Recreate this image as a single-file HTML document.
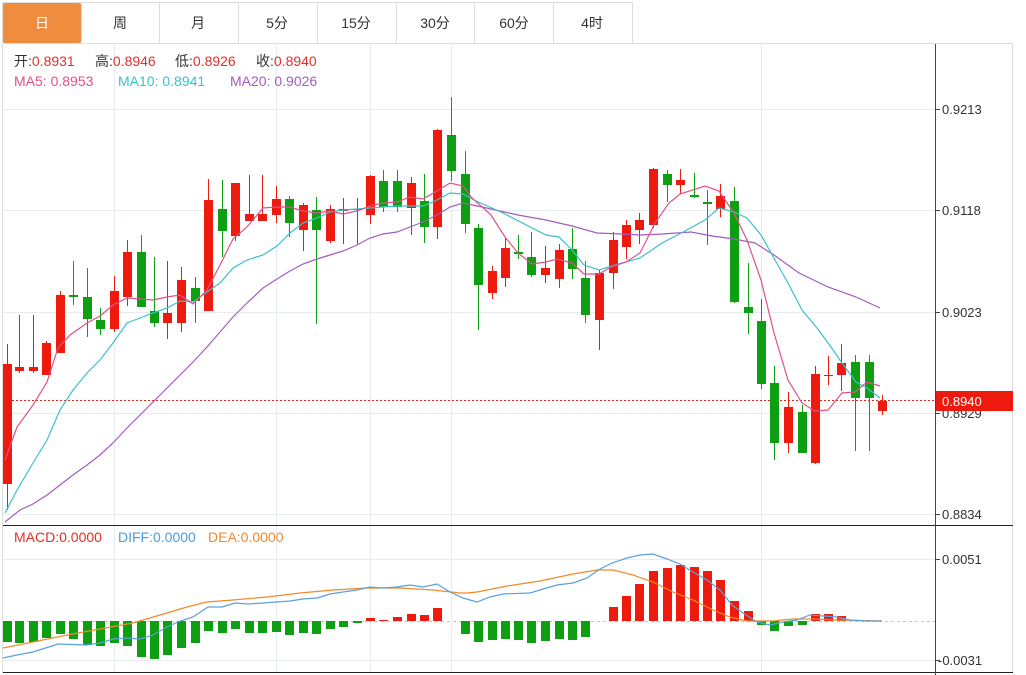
<!DOCTYPE html>
<html><head><meta charset="utf-8"><style>
html,body{margin:0;padding:0;background:#fff;width:1026px;height:675px;overflow:hidden}
svg{display:block;font-family:"Liberation Sans","Noto Sans CJK SC",sans-serif}
</style></head><body>
<svg width="1026" height="675" viewBox="0 0 1026 675" xmlns="http://www.w3.org/2000/svg">
<rect x="2.5" y="2.5" width="630" height="41" fill="#fff" stroke="#ddd"/>
<rect x="3" y="3" width="78" height="40" fill="#f08c3e" rx="2"/>
<g stroke="#ddd"><line x1="81.5" y1="3" x2="81.5" y2="43"/><line x1="159.5" y1="3" x2="159.5" y2="43"/><line x1="238.5" y1="3" x2="238.5" y2="43"/><line x1="317.5" y1="3" x2="317.5" y2="43"/><line x1="396.5" y1="3" x2="396.5" y2="43"/><line x1="474.5" y1="3" x2="474.5" y2="43"/><line x1="553.5" y1="3" x2="553.5" y2="43"/></g>
<line x1="2" y1="43.5" x2="1013" y2="43.5" stroke="#ddd"/>
<g font-size="14" text-anchor="middle" fill="#333">
<text x="42" y="28" fill="#fff">日</text><text x="120" y="28">周</text><text x="198" y="28">月</text><text x="277" y="28">5分</text><text x="356" y="28">15分</text><text x="435" y="28">30分</text><text x="514" y="28">60分</text><text x="592" y="28">4时</text>
</g>
<line x1="2.5" y1="44" x2="2.5" y2="673" stroke="#ddd"/>
<line x1="1012.5" y1="44" x2="1012.5" y2="673" stroke="#ddd"/>
<g stroke="#e6ecf1" stroke-width="1">
<line x1="3" y1="109.5" x2="935" y2="109.5"/><line x1="3" y1="210.5" x2="935" y2="210.5"/><line x1="3" y1="312.5" x2="935" y2="312.5"/><line x1="3" y1="413.5" x2="935" y2="413.5"/><line x1="3" y1="514.5" x2="935" y2="514.5"/>
<line x1="3" y1="559.5" x2="935" y2="559.5"/><line x1="3" y1="660.5" x2="935" y2="660.5"/>
<line x1="114.5" y1="44" x2="114.5" y2="673"/><line x1="276.5" y1="44" x2="276.5" y2="673"/><line x1="370.5" y1="44" x2="370.5" y2="673"/><line x1="451.5" y1="44" x2="451.5" y2="673"/><line x1="761.5" y1="44" x2="761.5" y2="673"/>
</g>
<g font-size="14">
<text x="14" y="66" fill="#333">开:<tspan fill="#e0302a">0.8931</tspan></text>
<text x="95" y="66" fill="#333">高:<tspan fill="#e0302a">0.8946</tspan></text>
<text x="175" y="66" fill="#333">低:<tspan fill="#e0302a">0.8926</tspan></text>
<text x="256" y="66" fill="#333">收:<tspan fill="#e0302a">0.8940</tspan></text>
<text x="14" y="86" fill="#e0508a">MA5: 0.8953</text>
<text x="118" y="86" fill="#3cc0d0">MA10: 0.8941</text>
<text x="230" y="86" fill="#a55bbf">MA20: 0.9026</text>
</g>
<line x1="8" y1="400.5" x2="935" y2="400.5" stroke="#e8261c" stroke-dasharray="2,2"/>
<g stroke-width="1">
<g fill="#ee1a0e" stroke="#ee1a0e">
<line x1="7.5" y1="344" x2="7.5" y2="510"/><rect x="3" y="364" width="9" height="120" stroke="none"/>
<line x1="19.5" y1="315" x2="19.5" y2="373"/><rect x="15" y="367" width="9" height="4" stroke="none"/>
<line x1="33.5" y1="315" x2="33.5" y2="373"/><rect x="29" y="367" width="9" height="4" stroke="none"/>
<line x1="46.5" y1="341" x2="46.5" y2="375"/><rect x="42" y="343" width="9" height="32" stroke="none"/>
<line x1="60.5" y1="291" x2="60.5" y2="353"/><rect x="56" y="295" width="9" height="58" stroke="none"/>
<line x1="114.5" y1="276" x2="114.5" y2="332"/><rect x="110" y="291" width="9" height="38" stroke="none"/>
<line x1="127.5" y1="240" x2="127.5" y2="306"/><rect x="123" y="252" width="9" height="45" stroke="none"/>
<line x1="167.5" y1="261" x2="167.5" y2="339"/><rect x="163" y="313" width="9" height="10" stroke="none"/>
<line x1="181.5" y1="267" x2="181.5" y2="332"/><rect x="177" y="280" width="9" height="43" stroke="none"/>
<line x1="208.5" y1="179" x2="208.5" y2="311"/><rect x="204" y="200" width="9" height="111" stroke="none"/>
<line x1="235.5" y1="183" x2="235.5" y2="241"/><rect x="231" y="183" width="9" height="53" stroke="none"/>
<line x1="249.5" y1="175" x2="249.5" y2="221"/><rect x="245" y="214" width="9" height="7" stroke="none"/>
<line x1="262.5" y1="175" x2="262.5" y2="221"/><rect x="258" y="214" width="9" height="7" stroke="none"/>
<line x1="276.5" y1="186" x2="276.5" y2="223"/><rect x="272" y="199" width="9" height="16" stroke="none"/>
<line x1="303.5" y1="203" x2="303.5" y2="251"/><rect x="299" y="205" width="9" height="25" stroke="none"/>
<line x1="330.5" y1="205" x2="330.5" y2="243"/><rect x="326" y="209" width="9" height="32" stroke="none"/>
<line x1="343.5" y1="198" x2="343.5" y2="244"/><rect x="339" y="209" width="9" height="2" stroke="none"/>
<line x1="357.5" y1="198" x2="357.5" y2="244"/><rect x="353" y="209" width="9" height="1" stroke="none"/>
<line x1="370.5" y1="175" x2="370.5" y2="224"/><rect x="366" y="176" width="9" height="39" stroke="none"/>
<line x1="411.5" y1="177" x2="411.5" y2="235"/><rect x="407" y="183" width="9" height="25" stroke="none"/>
<line x1="437.5" y1="129" x2="437.5" y2="239"/><rect x="433" y="130" width="9" height="97" stroke="none"/>
<line x1="492.5" y1="266" x2="492.5" y2="299"/><rect x="488" y="271" width="9" height="22" stroke="none"/>
<line x1="505.5" y1="238" x2="505.5" y2="287"/><rect x="501" y="248" width="9" height="30" stroke="none"/>
<line x1="545.5" y1="246" x2="545.5" y2="283"/><rect x="541" y="268" width="9" height="7" stroke="none"/>
<line x1="559.5" y1="244" x2="559.5" y2="288"/><rect x="555" y="250" width="9" height="29" stroke="none"/>
<line x1="599.5" y1="270" x2="599.5" y2="350"/><rect x="595" y="273" width="9" height="47" stroke="none"/>
<line x1="613.5" y1="232" x2="613.5" y2="289"/><rect x="609" y="240" width="9" height="33" stroke="none"/>
<line x1="626.5" y1="220" x2="626.5" y2="259"/><rect x="622" y="225" width="9" height="22" stroke="none"/>
<line x1="639.5" y1="213" x2="639.5" y2="244"/><rect x="635" y="220" width="9" height="10" stroke="none"/>
<line x1="653.5" y1="168" x2="653.5" y2="228"/><rect x="649" y="169" width="9" height="56" stroke="none"/>
<line x1="680.5" y1="169" x2="680.5" y2="194"/><rect x="676" y="180" width="9" height="5" stroke="none"/>
<line x1="720.5" y1="184" x2="720.5" y2="217"/><rect x="716" y="196" width="9" height="13" stroke="none"/>
<line x1="788.5" y1="392" x2="788.5" y2="453"/><rect x="784" y="407" width="9" height="36" stroke="none"/>
<line x1="815.5" y1="366" x2="815.5" y2="464"/><rect x="811" y="374" width="9" height="89" stroke="none"/>
<line x1="828.5" y1="356" x2="828.5" y2="385"/><rect x="824" y="375" width="9" height="1" stroke="none"/>
<line x1="841.5" y1="344" x2="841.5" y2="391"/><rect x="837" y="363" width="9" height="12" stroke="none"/>
<line x1="882.5" y1="395" x2="882.5" y2="415"/><rect x="878" y="401" width="9" height="10" stroke="none"/>
</g>
<g fill="#0e9e12" stroke="#0e9e12">
<line x1="73.5" y1="261" x2="73.5" y2="305"/><rect x="69" y="295" width="9" height="2" stroke="none"/>
<line x1="87.5" y1="268" x2="87.5" y2="337"/><rect x="83" y="297" width="9" height="22" stroke="none"/>
<line x1="100.5" y1="308" x2="100.5" y2="335"/><rect x="96" y="320" width="9" height="9" stroke="none"/>
<line x1="141.5" y1="235" x2="141.5" y2="307"/><rect x="137" y="252" width="9" height="55" stroke="none"/>
<line x1="154.5" y1="257" x2="154.5" y2="327"/><rect x="150" y="311" width="9" height="12" stroke="none"/>
<line x1="195.5" y1="277" x2="195.5" y2="323"/><rect x="191" y="288" width="9" height="13" stroke="none"/>
<line x1="222.5" y1="180" x2="222.5" y2="257"/><rect x="218" y="209" width="9" height="22" stroke="none"/>
<line x1="289.5" y1="196" x2="289.5" y2="237"/><rect x="285" y="199" width="9" height="24" stroke="none"/>
<line x1="316.5" y1="197" x2="316.5" y2="324"/><rect x="312" y="210" width="9" height="20" stroke="none"/>
<line x1="383.5" y1="170" x2="383.5" y2="212"/><rect x="379" y="181" width="9" height="26" stroke="none"/>
<line x1="397.5" y1="170" x2="397.5" y2="212"/><rect x="393" y="181" width="9" height="26" stroke="none"/>
<line x1="424.5" y1="174" x2="424.5" y2="243"/><rect x="420" y="201" width="9" height="26" stroke="none"/>
<line x1="451.5" y1="97" x2="451.5" y2="181"/><rect x="447" y="135" width="9" height="36" stroke="none"/>
<line x1="465.5" y1="151" x2="465.5" y2="233"/><rect x="461" y="174" width="9" height="50" stroke="none"/>
<line x1="478.5" y1="224" x2="478.5" y2="330"/><rect x="474" y="228" width="9" height="57" stroke="none"/>
<line x1="518.5" y1="235" x2="518.5" y2="259"/><rect x="514" y="252" width="9" height="2" stroke="none"/>
<line x1="531.5" y1="232" x2="531.5" y2="277"/><rect x="527" y="257" width="9" height="18" stroke="none"/>
<line x1="572.5" y1="228" x2="572.5" y2="279"/><rect x="568" y="249" width="9" height="20" stroke="none"/>
<line x1="585.5" y1="261" x2="585.5" y2="323"/><rect x="581" y="278" width="9" height="37" stroke="none"/>
<line x1="667.5" y1="170" x2="667.5" y2="202"/><rect x="663" y="174" width="9" height="11" stroke="none"/>
<line x1="694.5" y1="173" x2="694.5" y2="198"/><rect x="690" y="195" width="9" height="2" stroke="none"/>
<line x1="707.5" y1="190" x2="707.5" y2="245"/><rect x="703" y="202" width="9" height="2" stroke="none"/>
<line x1="734.5" y1="187" x2="734.5" y2="303"/><rect x="730" y="201" width="9" height="101" stroke="none"/>
<line x1="748.5" y1="263" x2="748.5" y2="334"/><rect x="744" y="307" width="9" height="6" stroke="none"/>
<line x1="761.5" y1="299" x2="761.5" y2="389"/><rect x="757" y="321" width="9" height="63" stroke="none"/>
<line x1="774.5" y1="366" x2="774.5" y2="460"/><rect x="770" y="383" width="9" height="60" stroke="none"/>
<line x1="802.5" y1="405" x2="802.5" y2="453"/><rect x="798" y="412" width="9" height="41" stroke="none"/>
<line x1="855.5" y1="355" x2="855.5" y2="451"/><rect x="851" y="362" width="9" height="36" stroke="none"/>
<line x1="869.5" y1="355" x2="869.5" y2="451"/><rect x="865" y="362" width="9" height="36" stroke="none"/>
</g>
</g>
<g fill="none" stroke-width="1.2">
<polyline stroke="#a55bbf" points="5,522 20,510 33,504 47,495 60,485 73,475 87,465 100,455 113,443 127,428 140,415 153,402 167,388 180,375 193,362 207,347 220,332 233,317 247,303 263,288 277,279 290,271 303,264 317,259 330,255 343,251 357,245 370,238 383,234 397,232 410,227 423,222 437,215 450,207 463,203 482,207 518,215 546,220 572,226 597,233 622,234 640,235 662,234 691,232 712,236 734,239 755,243 774,255 799,273 828,287 856,297 867,302 880,308"/>
<polyline stroke="#3cc0d0" points="5,513 17,490 33,463 47,440 60,410 73,390 87,373 100,360 113,343 127,323 140,318 153,313 167,308 180,301 193,302 207,292 220,283 233,268 247,260 263,255 277,246 290,233 303,223 317,218 330,212 343,210 357,209 370,208 383,207 397,206 410,206 423,206 437,200 450,193 463,194 474,200 503,213 546,235 559,237 572,250 584,265 599,270 615,265 640,258 662,243 683,232 705,220 719,208 734,212 747,218 761,235 775,260 788,283 802,310 817,328 831,347 842,363 856,382 867,388 880,398"/>
<polyline stroke="#e0508a" points="5,460 17,427 33,405 47,382 58,348 70,335 87,323 100,316 113,305 127,298 140,299 153,300 167,297 180,295 193,304 207,290 220,265 233,239 247,227 263,208 277,207 290,207 303,211 317,213 330,211 343,214 357,211 370,206 383,203 397,202 410,197 423,199 437,191 450,183 463,186 471,197 491,215 505,237 518,253 532,264 546,262 557,259 572,263 584,274 599,274 611,267 626,262 640,253 655,223 669,203 680,194 705,186 719,191 734,213 747,240 761,280 774,333 788,380 802,403 815,411 828,410 842,393 855,392 867,382 880,386"/>
</g>
<line x1="3" y1="525.5" x2="1013" y2="525.5" stroke="#222"/>
<line x1="3" y1="672.5" x2="1013" y2="672.5" stroke="#222"/>
<line x1="935.5" y1="44" x2="935.5" y2="675" stroke="#444"/>
<g stroke="#444"><line x1="935" y1="109.5" x2="940" y2="109.5"/><line x1="935" y1="210.5" x2="940" y2="210.5"/><line x1="935" y1="312.5" x2="940" y2="312.5"/><line x1="935" y1="413.5" x2="940" y2="413.5"/><line x1="935" y1="514.5" x2="940" y2="514.5"/><line x1="935" y1="559.5" x2="940" y2="559.5"/><line x1="935" y1="660.5" x2="940" y2="660.5"/></g>
<g font-size="13" fill="#333">
<text x="942" y="114">0.9213</text><text x="942" y="215">0.9118</text><text x="942" y="317">0.9023</text><text x="942" y="418">0.8929</text><text x="942" y="519">0.8834</text>
<text x="942" y="564">0.0051</text><text x="938" y="665">-0.0031</text>
</g>
<rect x="936" y="391" width="77" height="20" fill="#ee1a0e"/>
<text x="942" y="406" font-size="13" fill="#fff">0.8940</text>
<g font-size="14"><text x="14" y="542" fill="#e0302a">MACD:0.0000</text><text x="118" y="542" fill="#4a9de0">DIFF:0.0000</text><text x="208" y="542" fill="#f08a2a">DEA:0.0000</text></g>
<line x1="3" y1="621.5" x2="935" y2="621.5" stroke="#9fd0e8" stroke-dasharray="3,3"/>
<g fill="#0e9e12">
<rect x="3" y="621" width="9" height="21"/><rect x="15" y="621" width="9" height="22"/><rect x="29" y="621" width="9" height="21"/><rect x="42" y="621" width="9" height="17"/><rect x="56" y="621" width="9" height="13"/><rect x="69" y="621" width="9" height="18"/><rect x="83" y="621" width="9" height="24"/><rect x="96" y="621" width="9" height="25"/><rect x="110" y="621" width="9" height="22"/><rect x="123" y="621" width="9" height="25"/><rect x="137" y="621" width="9" height="36"/><rect x="150" y="621" width="9" height="38"/><rect x="163" y="621" width="9" height="34"/><rect x="177" y="621" width="9" height="27"/><rect x="191" y="621" width="9" height="22"/><rect x="204" y="621" width="9" height="10"/><rect x="218" y="621" width="9" height="12"/><rect x="231" y="621" width="9" height="8"/><rect x="245" y="621" width="9" height="12"/><rect x="258" y="621" width="9" height="12"/><rect x="272" y="621" width="9" height="11"/><rect x="285" y="621" width="9" height="14"/><rect x="299" y="621" width="9" height="12"/><rect x="312" y="621" width="9" height="13"/><rect x="326" y="621" width="9" height="8"/><rect x="339" y="621" width="9" height="6"/><rect x="353" y="621" width="9" height="2"/>
<rect x="461" y="621" width="9" height="13"/><rect x="474" y="621" width="9" height="21"/><rect x="488" y="621" width="9" height="19"/><rect x="501" y="621" width="9" height="18"/><rect x="514" y="621" width="9" height="19"/><rect x="527" y="621" width="9" height="22"/><rect x="541" y="621" width="9" height="20"/><rect x="555" y="621" width="9" height="18"/><rect x="568" y="621" width="9" height="19"/><rect x="581" y="621" width="9" height="16"/>
<rect x="757" y="621" width="9" height="4"/><rect x="770" y="621" width="9" height="10"/><rect x="784" y="621" width="9" height="5"/><rect x="798" y="621" width="9" height="4"/>
</g>
<g fill="#ee1a0e">
<rect x="366" y="618" width="9" height="3"/><rect x="379" y="620" width="9" height="1"/><rect x="393" y="617" width="9" height="4"/><rect x="407" y="614" width="9" height="7"/><rect x="420" y="615" width="9" height="6"/><rect x="433" y="608" width="9" height="13"/>
<rect x="609" y="607" width="9" height="14"/><rect x="622" y="596" width="9" height="25"/><rect x="635" y="584" width="9" height="37"/><rect x="649" y="571" width="9" height="50"/><rect x="663" y="568" width="9" height="53"/><rect x="676" y="565" width="9" height="56"/><rect x="690" y="567" width="9" height="54"/><rect x="703" y="571" width="9" height="50"/><rect x="716" y="580" width="9" height="41"/><rect x="730" y="601" width="9" height="20"/><rect x="744" y="611" width="9" height="10"/>
<rect x="811" y="614" width="9" height="7"/><rect x="824" y="614" width="9" height="7"/><rect x="837" y="616" width="9" height="5"/>
</g>
<g fill="none" stroke-width="1.2">
<polyline stroke="#f08a2a" points="3,648 33,642 67,635 100,629 133,623 143,620 167,613 187,607 207,602 233,600 267,597 300,593 333,590 367,588 400,588 433,590 460,593 467,593 477,592 507,586 540,581 573,574 597,570 613,570 633,575 653,582 673,592 693,600 713,610 730,617 747,621 773,621 793,619 813,619 840,620 882,621"/>
<polyline stroke="#5aa0e0" points="3,658 17,655 33,652 58,644 87,645 100,643 113,639 127,638 140,639 153,635 167,627 180,621 193,617 208,607 222,607 235,603 248,604 263,603 277,602 290,601 303,599 317,598 330,594 343,592 357,590 370,587 383,588 397,587 410,585 423,587 437,584 450,592 463,598 477,602 490,597 503,594 530,593 543,589 557,585 573,583 587,578 600,569 612,563 627,558 640,555 653,554 667,559 680,564 693,572 707,580 720,590 732,605 743,613 757,622 770,625 783,622 797,620 810,615 823,616 837,617 850,620 867,621 882,621"/>
</g>
</svg>
</body></html>
